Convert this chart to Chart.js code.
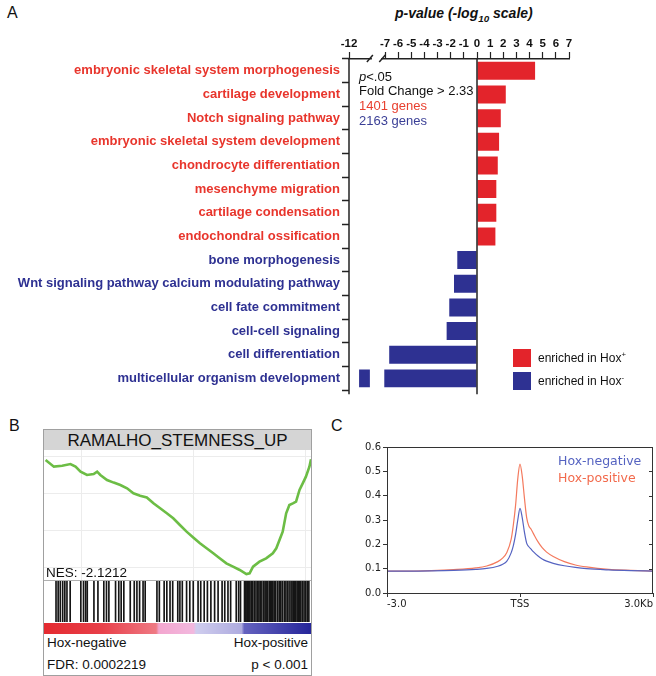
<!DOCTYPE html>
<html><head><meta charset="utf-8">
<script src="https://cdn.jsdelivr.net/npm/chart.js@4.4.1/dist/chart.umd.min.js"></script>
<style>
html,body{margin:0;padding:0;background:#fff;}
body{width:656px;height:676px;position:relative;overflow:hidden;font-family:"Liberation Sans",Arial,sans-serif;color:#111;}
.t{position:absolute;white-space:nowrap;line-height:1;}
canvas{position:absolute;}
sup{font-size:65%;vertical-align:super;line-height:0;}
</style></head><body>

<!-- Panel letters -->
<div class="t" style="left:7px;top:5px;font-size:16px;">A</div>
<div class="t" style="left:9px;top:418px;font-size:16px;">B</div>
<div class="t" style="left:331px;top:418px;font-size:16px;">C</div>

<!-- Panel A -->
<div class="t" style="left:395px;top:6px;font-size:14px;font-weight:bold;font-style:italic;">p-value (-log<sub style="font-size:70%;line-height:0;">10</sub> scale)</div>
<canvas id="cA" width="656" height="400" style="left:0;top:0;"></canvas>
<div class="t" style="left:359px;top:70px;font-size:13px;"><i>p</i>&lt;.05</div>
<div class="t" style="left:359px;top:84px;font-size:13px;">Fold Change &gt; 2.33</div>
<div class="t" style="left:359px;top:99px;font-size:13px;color:#e8402f;">1401 genes</div>
<div class="t" style="left:359px;top:114px;font-size:13px;color:#3a3f96;">2163 genes</div>
<div style="position:absolute;left:513px;top:349px;width:18px;height:18px;background:#e3242b;"></div>
<div style="position:absolute;left:513px;top:372px;width:18px;height:18px;background:#2e3192;"></div>
<div class="t" style="left:538px;top:352px;font-size:12px;">enriched in Hox<sup>+</sup></div>
<div class="t" style="left:538px;top:375px;font-size:12px;">enriched in Hox<sup>-</sup></div>

<!-- Panel B -->
<div style="position:absolute;left:43px;top:429px;width:267px;height:245px;border:1px solid #a0a0a0;"></div>
<div class="t" style="left:44px;top:430px;width:267px;height:20px;background:#d5d5d5;"></div>
<div class="t" style="left:44px;top:432px;width:267px;text-align:center;font-size:17px;">RAMALHO_STEMNESS_UP</div>
<canvas id="cES" width="267" height="130" style="left:44px;top:450px;"></canvas>
<div style="position:absolute;left:44px;top:580px;width:267px;height:1px;background:#b0b0b0;"></div>
<canvas id="cBar" width="267" height="41" style="left:44px;top:581px;"></canvas>
<canvas id="cRank" width="267" height="11" style="left:44px;top:623px;"></canvas>
<div class="t" style="left:46px;top:566px;font-size:13.5px;">NES: -2.1212</div>
<div class="t" style="left:47px;top:636px;font-size:13.5px;">Hox-negative</div>
<div class="t" style="left:47px;top:658px;font-size:13.5px;">FDR: 0.0002219</div>
<div class="t" style="right:348px;top:636px;font-size:13.5px;">Hox-positive</div>
<div class="t" style="right:348px;top:658px;font-size:13.5px;">p &lt; 0.001</div>

<!-- Panel C -->
<canvas id="cC" width="326" height="276" style="left:330px;top:400px;"></canvas>
<div class="t" style="left:558px;top:455px;font-size:12.5px;font-family:'DejaVu Sans';color:#5563c1;">Hox-negative</div>
<div class="t" style="left:558px;top:472px;font-size:12.5px;font-family:'DejaVu Sans';color:#f26a4c;">Hox-positive</div>

<script>
// ---------- DATA ----------
// Panel A: GO terms and signed -log10(p)
const goTerms = [
  "embryonic skeletal system morphogenesis",
  "cartilage development",
  "Notch signaling pathway",
  "embryonic skeletal system development",
  "chondrocyte differentiation",
  "mesenchyme migration",
  "cartilage condensation",
  "endochondral ossification",
  "bone morphogenesis",
  "Wnt signaling pathway calcium modulating pathway",
  "cell fate commitment",
  "cell-cell signaling",
  "cell differentiation",
  "multicellular organism development"
];
const goLog10P = [4.42, 2.19, 1.81, 1.68, 1.58, 1.47, 1.47, 1.40, -1.50, -1.75, -2.11, -2.31, -6.68, -10.6];
const pAxisTicks = [-12, -7, -6, -5, -4, -3, -2, -1, 0, 1, 2, 3, 4, 5, 6, 7];

// Panel B: running enrichment score (rank %, ES) and hit positions (rank %)
const esRank = [0.6, 3.7, 6.8, 9.9, 11.8, 13.7, 16.1, 18.6, 19.9, 21.1, 23.6, 26.1, 28.6, 31.1, 33.5, 36.0, 38.5, 41.0, 43.5, 46.0, 48.4, 50.9, 53.4, 55.9, 58.4, 60.9, 63.4, 65.8, 68.3, 70.8, 73.3, 75.8, 77.0, 78.3, 80.7, 83.2, 85.7, 87.0, 88.2, 89.4, 90.7, 91.9, 93.2, 94.4, 95.7, 96.9, 98.1, 99.4, 100];
const esScore = [-0.018, -0.054, -0.049, -0.040, -0.054, -0.081, -0.099, -0.094, -0.081, -0.099, -0.126, -0.140, -0.153, -0.171, -0.198, -0.211, -0.220, -0.252, -0.279, -0.306, -0.333, -0.369, -0.405, -0.437, -0.468, -0.495, -0.522, -0.549, -0.576, -0.594, -0.612, -0.634, -0.630, -0.594, -0.567, -0.549, -0.522, -0.495, -0.450, -0.405, -0.306, -0.261, -0.252, -0.243, -0.180, -0.144, -0.108, -0.054, -0.014];
const hitRanks = [4.5, 5.3, 6.1, 7.0, 7.8, 8.6, 9.8, 13.8, 14.8, 15.6, 16.2, 18.7, 20.2, 22.4, 23.4, 24.3, 26.8, 28.0, 28.9, 29.9, 32.3, 33.8, 34.8, 35.8, 37.1, 37.9, 42.3, 43.2, 45.0, 46.0, 47.2, 48.2, 50.1, 50.9, 51.8, 53.4, 54.6, 55.9, 57.7, 58.7, 60.0, 61.2, 62.5, 63.9, 65.2, 66.7, 67.7, 68.9, 69.9, 72.0, 72.9, 73.6, 75.1, 75.4, 75.7, 76.2, 76.6, 77.1, 77.6, 78.2, 78.8, 79.4, 80.0, 80.5, 81.0, 81.6, 82.3, 82.8, 83.2, 83.8, 84.4, 84.8, 85.2, 85.7, 86.2, 86.8, 87.5, 88.1, 88.7, 89.3, 90.0, 90.6, 91.2, 91.8, 92.5, 92.9, 93.4, 93.9, 94.3, 94.8, 95.2, 95.7, 96.2, 96.8, 97.4, 98.0, 98.6, 99.2];

// Panel C: signal profile around TSS (kb)
const tssOffsetKb = [-3.0, -2.5, -2.0, -1.5, -1.0, -0.75, -0.5, -0.4, -0.3, -0.2, -0.15, -0.1, -0.05, 0, 0.05, 0.1, 0.15, 0.2, 0.25, 0.3, 0.4, 0.5, 0.6, 0.75, 1.0, 1.25, 1.5, 2.0, 2.5, 3.0];
const hoxNegative = [0.090, 0.090, 0.091, 0.093, 0.097, 0.101, 0.110, 0.117, 0.130, 0.165, 0.195, 0.240, 0.300, 0.348, 0.310, 0.250, 0.205, 0.190, 0.180, 0.170, 0.153, 0.140, 0.131, 0.122, 0.112, 0.105, 0.100, 0.095, 0.092, 0.090];
const hoxPositive = [0.090, 0.090, 0.092, 0.096, 0.103, 0.111, 0.129, 0.142, 0.165, 0.220, 0.280, 0.360, 0.470, 0.530, 0.480, 0.390, 0.310, 0.275, 0.262, 0.245, 0.212, 0.186, 0.168, 0.150, 0.129, 0.115, 0.107, 0.097, 0.093, 0.090];
const cTickLabels = {"-3": "-3.0", "0": "TSS", "3": "3.0Kb"};

// ---------- STYLE ----------
const RED = '#e3242b', BLUE = '#2e3192';
const LBL_RED = '#e8352c', LBL_BLUE = '#2e3192';
const FONT = '"Liberation Sans", Arial, sans-serif';

// Broken linear scale: -12..-7 compressed, -7..7 linear
const COMPRESS = 36 / 220;
class BrokenLinearScale extends Chart.LinearScale {
  _frac(v) {
    if (v >= -7) return COMPRESS + (v + 7) / 14 * (1 - COMPRESS);
    return (v + 12) / 5 * COMPRESS;
  }
  getPixelForValue(v) { return this.left + this._frac(v) * this.width; }
  getValueForPixel(p) {
    const f = (p - this.left) / this.width;
    return f >= COMPRESS ? -7 + (f - COMPRESS) / (1 - COMPRESS) * 14 : -12 + f / COMPRESS * 5;
  }
}
BrokenLinearScale.id = 'brokenLinear';
BrokenLinearScale.defaults = Chart.LinearScale.defaults;
Chart.register(BrokenLinearScale);

const breakPlugin = {
  id: 'breakPlugin',
  afterDatasetsDraw(chart) {
    const ctx = chart.ctx, xs = chart.scales.x, a = chart.chartArea;
    const x1 = xs.getPixelForValue(-9.1), x2 = xs.getPixelForValue(-7.1);
    ctx.save();
    ctx.fillStyle = '#fff';
    ctx.fillRect(x1, a.top + 1, x2 - x1, a.bottom - a.top + 4);
    ctx.strokeStyle = '#222'; ctx.lineWidth = 1.5;
    const x0 = xs.getPixelForValue(0);
    ctx.beginPath(); ctx.moveTo(x0, a.top); ctx.lineTo(x0, a.bottom + 4); ctx.stroke();
    ctx.beginPath(); ctx.moveTo(a.left, a.top); ctx.lineTo(a.left, a.bottom + 4); ctx.stroke();
    ctx.restore();
  },
  afterDraw(chart) {
    const ctx = chart.ctx, xs = chart.scales.x, a = chart.chartArea;
    const x1 = xs.getPixelForValue(-9.1), x2 = xs.getPixelForValue(-7.1);
    const y = a.top;
    ctx.save();
    ctx.fillStyle = '#fff';
    ctx.fillRect(x1 + 2, y - 3, x2 - x1 - 5, 6);
    ctx.strokeStyle = '#222'; ctx.lineWidth = 1.5;
    [x1, x2 - 2].forEach(px => {
      ctx.beginPath(); ctx.moveTo(px - 3, y + 3); ctx.lineTo(px + 3, y - 4); ctx.stroke();
    });
    ctx.restore();
  }
};

new Chart(document.getElementById('cA'), {
  type: 'bar',
  data: {
    labels: goTerms,
    datasets: [{
      data: goLog10P,
      backgroundColor: c => c.raw > 0 ? RED : BLUE,
      borderWidth: 0,
      barPercentage: 0.76,
      categoryPercentage: 1.0
    }]
  },
  options: {
    indexAxis: 'y',
    responsive: false,
    animation: false,
    layout: { padding: { left: 0, right: 87, top: 0, bottom: 6 } },
    plugins: { legend: { display: false }, tooltip: { enabled: false } },
    scales: {
      x: {
        type: 'brokenLinear',
        position: 'top',
        min: -12, max: 7,
        afterBuildTicks: s => { s.ticks = pAxisTicks.map(v => ({ value: v })); },
        afterFit: s => { s.height = 59; },
        ticks: { color: '#111', font: { family: FONT, size: 11.5, weight: 'bold' }, padding: 1, maxRotation: 0, autoSkip: false, callback: v => String(v) },
        grid: { drawOnChartArea: false, tickLength: 7, tickColor: '#222', tickWidth: 1.2 },
        border: { display: true, color: '#222', width: 1.5 }
      },
      y: {
        afterFit: s => { s.width = 349; },
        ticks: {
          color: c => goLog10P[c.index] > 0 ? LBL_RED : LBL_BLUE,
          font: { family: FONT, size: 13, weight: 'bold' }, padding: 2, autoSkip: false
        },
        grid: { drawOnChartArea: false, tickLength: 7, tickColor: '#222', tickWidth: 1.5 },
        border: { display: false }
      }
    }
  },
  plugins: [breakPlugin]
});

// Panel B: enrichment score curve
new Chart(document.getElementById('cES'), {
  type: 'line',
  data: {
    datasets: [{
      data: esRank.map((r, i) => ({ x: r, y: esScore[i] })),
      borderColor: '#6cbd45', borderWidth: 2.6, pointRadius: 0, tension: 0, fill: false
    }]
  },
  options: {
    responsive: false, animation: false,
    layout: { padding: 0 },
    plugins: { legend: { display: false }, tooltip: { enabled: false } },
    scales: {
      x: { type: 'linear', min: 0, max: 100, afterFit: s => { s.height = 0; },
           afterBuildTicks: s => { s.ticks = [14, 56, 98].map(v => ({ value: v })); },
           ticks: { display: false }, grid: { color: '#ececec', drawTicks: false }, border: { display: false } },
      y: { min: -0.666, max: 0.036, afterFit: s => { s.width = 0; },
           afterBuildTicks: s => { s.ticks = [-0.6, -0.4, -0.2, 0].map(v => ({ value: v })); },
           ticks: { display: false }, grid: { color: '#ececec', drawTicks: false }, border: { display: false } }
    }
  }
});

// Panel B: hit barcode
new Chart(document.getElementById('cBar'), {
  type: 'bar',
  data: {
    datasets: [{
      data: hitRanks.map(r => ({ x: r, y: 1 })),
      backgroundColor: '#151515', barThickness: 1, borderWidth: 0
    }]
  },
  options: {
    responsive: false, animation: false,
    layout: { padding: 0 },
    plugins: { legend: { display: false }, tooltip: { enabled: false } },
    scales: {
      x: { type: 'linear', min: 0, max: 100, offset: false, display: false, grid: { offset: false } },
      y: { min: 0, max: 1, display: false }
    }
  }
});

// Panel B: ranked list colour bar
new Chart(document.getElementById('cRank'), {
  type: 'bar',
  data: {
    labels: ['rank'],
    datasets: [{
      data: [[0, 100]],
      borderWidth: 0, barPercentage: 1, categoryPercentage: 1,
      backgroundColor: c => {
        const a = c.chart.chartArea;
        if (!a) return '#e33';
        const g = c.chart.ctx.createLinearGradient(a.left, 0, a.right, 0);
        g.addColorStop(0, '#e42a30');
        g.addColorStop(0.22, '#e8404a');
        g.addColorStop(0.42, '#ef7a84');
        g.addColorStop(0.43, '#f3a6cf');
        g.addColorStop(0.56, '#f2b8de');
        g.addColorStop(0.57, '#cfcdee');
        g.addColorStop(0.74, '#aeabdf');
        g.addColorStop(0.75, '#6462bf');
        g.addColorStop(1, '#26269a');
        return g;
      }
    }]
  },
  options: {
    indexAxis: 'y', responsive: false, animation: false,
    layout: { padding: 0 },
    plugins: { legend: { display: false }, tooltip: { enabled: false } },
    scales: {
      x: { type: 'linear', min: 0, max: 100, display: false },
      y: { display: false }
    }
  }
});

// Panel C
const framePlugin = {
  id: 'frame',
  afterDraw(chart) {
    const ctx = chart.ctx, a = chart.chartArea, ys = chart.scales.y;
    ctx.save();
    ctx.strokeStyle = '#333'; ctx.lineWidth = 1;
    ctx.strokeRect(a.left + 0.5, a.top + 0.5, a.right - a.left - 1, a.bottom - a.top);
    for (let v = 0.1; v < 0.6; v += 0.1) {
      const y = Math.round(ys.getPixelForValue(v)) + 0.5;
      ctx.beginPath(); ctx.moveTo(a.right - 4, y); ctx.lineTo(a.right, y); ctx.stroke();
    }
    ctx.restore();
  }
};
new Chart(document.getElementById('cC'), {
  type: 'line',
  data: {
    datasets: [
      { label: 'Hox-negative', data: tssOffsetKb.map((x, i) => ({ x, y: hoxNegative[i] })),
        borderColor: '#5563c1', borderWidth: 1.2, pointRadius: 0, cubicInterpolationMode: 'monotone', fill: false },
      { label: 'Hox-positive', data: tssOffsetKb.map((x, i) => ({ x, y: hoxPositive[i] })),
        borderColor: '#f47a5e', borderWidth: 1.2, pointRadius: 0, cubicInterpolationMode: 'monotone', fill: false }
    ]
  },
  options: {
    responsive: false, animation: false,
    layout: { padding: { left: 0, top: 47, right: 3, bottom: 0 } },
    plugins: { legend: { display: false }, tooltip: { enabled: false } },
    scales: {
      x: { type: 'linear', min: -3, max: 3, afterFit: s => { s.height = 83; },
           afterBuildTicks: s => { s.ticks = [-3, 0, 3].map(v => ({ value: v })); },
           ticks: { align: 'inner', maxRotation: 0, padding: 1, color: '#222', font: { family: '"DejaVu Sans"', size: 10 },
                    callback: v => cTickLabels[String(v)] },
           grid: { drawOnChartArea: false, tickLength: 4, tickColor: '#333' }, border: { color: '#333' } },
      y: { min: 0, max: 0.6, afterFit: s => { s.width = 57; },
           ticks: { stepSize: 0.1, padding: 2, color: '#222', font: { family: '"DejaVu Sans"', size: 10 },
                    callback: v => Number(v).toFixed(1) },
           grid: { drawOnChartArea: false, tickLength: 4, tickColor: '#333' }, border: { color: '#333' } }
    }
  },
  plugins: [framePlugin]
});
</script>
</body></html>
